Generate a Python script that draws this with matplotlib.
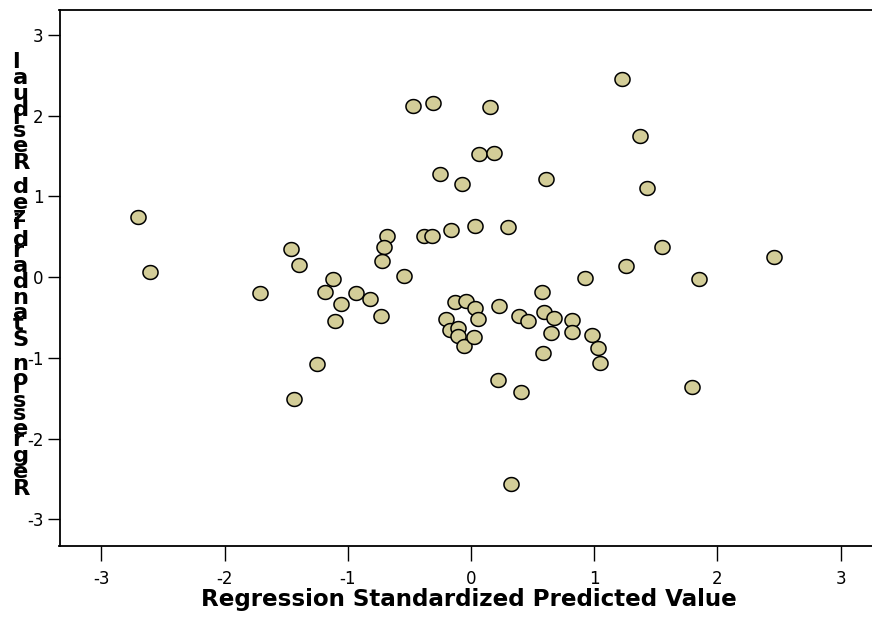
import numpy as np
import matplotlib
matplotlib.use("Agg")
import matplotlib.pyplot as plt
from matplotlib.path import Path
from matplotlib.font_manager import FontProperties, findfont
from matplotlib.ft2font import FT2Font

# ---- data ----
pred_x = [-0.469, -0.311, 0.063, -0.252, -0.075, -2.705, -2.605, -1.464, -1.396,
          -0.684, -0.706, -0.722, -0.379, -0.314, -0.165, 0.036, -0.546, -1.123,
          -1.185, -1.710, -0.933, -0.820, -1.053, -1.107, -0.728, -0.130, -0.043,
          0.032, 0.054, -0.203, -0.170, -0.103, -0.106, -0.059, 0.024, -1.252,
          -1.439, 0.230, 0.390, 0.460, 0.579, 0.595, 0.671, 0.647, 0.587, 0.822,
          0.822, 0.982, 1.028, 1.050, 0.928, 1.262, 1.550, 1.853, 2.462, 0.216,
          0.403, 0.322, 1.794, 1.223, 0.154, 1.374, 0.184, 0.611, 1.429, 0.298]
resid_y = [2.120, 2.155, 1.520, 1.275, 1.155, 0.742, 0.061, 0.350, 0.151,
           0.510, 0.370, 0.197, 0.507, 0.507, 0.585, 0.638, 0.019, -0.026,
           -0.187, -0.200, -0.200, -0.270, -0.336, -0.539, -0.481, -0.307, -0.295,
           -0.386, -0.518, -0.514, -0.654, -0.626, -0.725, -0.853, -0.737, -1.072,
           -1.505, -0.361, -0.481, -0.539, -0.183, -0.427, -0.506, -0.695, -0.939, -0.530,
           -0.675, -0.716, -0.873, -1.059, -0.014, 0.133, 0.374, -0.026, 0.247, -1.270,
           -1.426, -2.563, -1.361, 2.456, 2.113, 1.753, 1.543, 1.221, 1.109, 0.618]

tick_vals = [-3, -2, -1, 0, 1, 2, 3]
tick_labels = ["-3", "-2", "-1", "0", "1", "2", "3"]
x_title = "Regression Standardized Predicted Value"
y_title = "Regression Standardized Residual"

W, H = 872, 623
fig = plt.figure(figsize=(W / 100, H / 100), dpi=100)
fig.patch.set_facecolor("white")

ax_left, ax_right, ax_top, ax_bottom = 59.5, 882.5, 10.3, 545.5
ax = fig.add_axes([ax_left / W, (H - ax_bottom) / H,
                   (ax_right - ax_left) / W, (ax_bottom - ax_top) / H])

# slightly wide elliptical marker, as in the reference
t = np.linspace(0, 2 * np.pi, 61)
ellipse = Path(np.column_stack([np.cos(t), 0.92 * np.sin(t)]), closed=True)

ax.scatter(pred_x, resid_y, s=118, marker=ellipse, facecolor="#D3CD98",
           edgecolor="black", linewidths=1.1, zorder=3)

ax.set_xlim(-3.34, 3.34)
ax.set_ylim(-3.325, 3.306)
ax.set_xticks(tick_vals)
ax.set_xticklabels(tick_labels)
ax.set_yticks(tick_vals)
ax.set_yticklabels(tick_labels)

for name, sp in ax.spines.items():
    sp.set_linewidth(1.3)
    sp.set_color("black")
ax.spines["right"].set_visible(False)

ax.tick_params(axis="x", direction="out", length=11, width=1.0, pad=7,
               labelsize=12, colors="black")
ax.tick_params(axis="y", direction="out", length=9, width=1.0, pad=2.5,
               labelsize=12, colors="black")
ax.tick_params(top=False, right=False)

# x-axis title
fig.text(468.5 / W, (H - 606) / H, x_title, ha="center", va="baseline",
         fontsize=16.6, fontweight="bold", family="DejaVu Sans", color="black")

# y-axis title: upright glyphs stacked bottom-to-top (as in the reference)
ysize = 16.2
prop = FontProperties(family="DejaVu Sans", weight="bold")
advances = []
try:
    ft = FT2Font(findfont(prop))
    ft.set_size(ysize, 100)
    for ch in y_title:
        g = ft.load_char(ord(ch))
        advances.append(g.linearHoriAdvance / 65536.0)
except Exception:
    advances = [ysize * 100 / 72 * 0.62 for ch in y_title]

pen = 495.0  # baseline of first character, px from top
for ch, adv in zip(y_title, advances):
    if ch != " ":
        fig.text(12.5 / W, (H - pen) / H, ch, ha="left", va="baseline",
                 fontsize=ysize, fontweight="bold", family="DejaVu Sans",
                 color="black")
    pen -= adv

fig.savefig("out.png", dpi=100, facecolor="white")
